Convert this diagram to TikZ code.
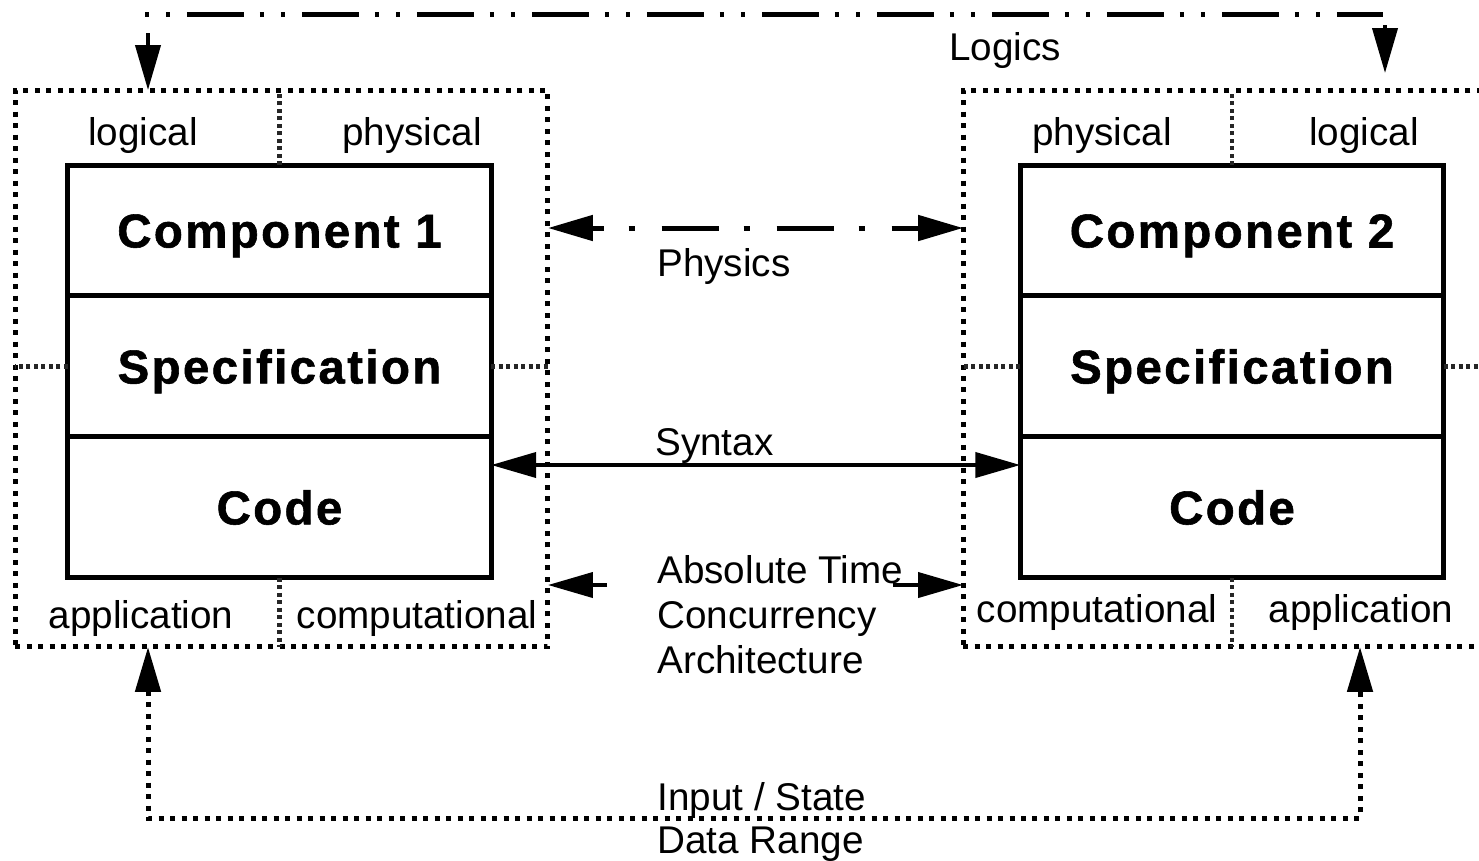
\documentclass[tikz,border=0pt]{standalone}
\usepackage{fontspec}
\setmainfont{Liberation Sans}
\usetikzlibrary{arrows.meta,positioning}

\begin{document}
\begin{tikzpicture}[
    x=0.02cm, y=-0.02cm,
    >={Triangle[length=9mm,width=5mm]},
    % component layers and their dotted frames
    layer/.style={rectangle, draw, line width=1mm, minimum width=8.47cm, minimum height=2.82cm, inner sep=0pt, outer sep=0pt, text height=19.3pt, text depth=0pt, font=\fontsize{27}{30}\selectfont\bfseries\addfontfeatures{LetterSpace=5,FakeBold=1.2}},
    frame/.style={rectangle, draw, line width=1mm, dash pattern=on 1mm off 1.3mm, minimum width=10.66cm, minimum height=11.14cm, inner sep=0pt, outer sep=0pt},
    split/.style={line width=0.9mm, dash pattern=on 0.8mm off 0.7mm, black!85},
    tag/.style={font=\fontsize{22}{25.6}\selectfont, inner sep=0pt},
    % connector styles
    dots/.style={line width=1mm, dash pattern=on 1mm off 1.3mm},
    logics/.style={line width=1mm, dash pattern=on 11.4mm off 3.2mm on 0.8mm off 3.4mm on 0.8mm off 3.4mm, dash phase=14.6mm},
    physics/.style={line width=1mm, dash pattern=on 11.4mm off 5mm on 1.2mm off 5.4mm, dash phase=9mm},
    link/.style={line width=0.8mm}
]

\fill[white] (0,0) rectangle (1479,860);
\useasboundingbox (0,0) rectangle (1479,860);

% Component 1 (left)
\node[frame] (outer1) at (281.5,368.5) {};
\node[layer, minimum height=2.62cm] (comp1) at (279.5,230.5) {Component 1};
\node[layer, below=0pt of comp1] (spec1) {Specification};
\node[layer, below=0pt of spec1] (code1) {Code};

\draw[split] (comp1.north) -- (comp1.north |- outer1.north);
\draw[split] (code1.south) -- (code1.south |- outer1.south);
\draw[split] (spec1.west) -- (spec1.west -| outer1.west);
\draw[split] (spec1.east) -- (spec1.east -| outer1.east);

\node[tag, anchor=base] (lg1) at (143,145) {logical};
\node[tag, anchor=base] (ph1) at (412,145) {physical};
\node[tag, anchor=base] (ap1) at (141,628) {application};
\node[tag, anchor=base] (cp1) at (417,628) {computational};

% Component 2 (right)
\node[frame] (outer2) at (1229.5,368.5) {};
\node[layer, minimum height=2.62cm] (comp2) at (1232,230.5) {Component 2};
\node[layer, below=0pt of comp2] (spec2) {Specification};
\node[layer, below=0pt of spec2] (code2) {Code};

\draw[split] (comp2.north) -- (comp2.north |- outer2.north);
\draw[split] (code2.south) -- (code2.south |- outer2.south);
\draw[split] (spec2.west) -- (spec2.west -| outer2.west);
\draw[split] (spec2.east) -- (spec2.east -| outer2.east);

\node[tag, anchor=base] (ph2) at (1102,145) {physical};
\node[tag, anchor=base] (lg2) at (1364,145) {logical};
\node[tag, anchor=base] (cp2) at (1097,622) {computational};
\node[tag, anchor=base] (ap2) at (1361,622) {application};

% Logics
\coordinate (lgA) at (145,14);
\coordinate (lgB) at (1383,14);
\coordinate (lgL) at (148,33);
\coordinate (lgR) at (1385,25);
\draw[logics] (lgA) -- (lgB);
\draw[link, ->] (lgL) -- (lgL |- outer1.north);
\draw[link, ->] (lgR) -- ++(0,48);
\node[tag, anchor=base] (logics) at (1005,60) {Logics};

% Physics
\coordinate (phy) at (0,228);
\draw[physics, <->] (outer1.east |- phy) -- (outer2.west |- phy);
\node[tag, anchor=base west] (physics) at (657,276) {Physics};

% Syntax
\coordinate (syn) at (0,465);
\draw[link, <->] (code1.east |- syn) -- (code2.west |- syn);
\node[tag, anchor=base west] (syntax) at (655,455) {Syntax};

% Absolute Time / Concurrency / Architecture
\coordinate (tmL) at (607,585);
\coordinate (tmR) at (893,585);
\draw[link, ->] (tmL) -- (outer1.east |- tmL);
\draw[link, ->] (tmR) -- (outer2.west |- tmR);
\node[tag, anchor=north west, align=left] (timing) at (657,555) {Absolute Time\\Concurrency\\Architecture};

% Input / State
\coordinate (inL) at (148,818);
\coordinate (inR) at (1360,818);
\draw[dots, <->] (outer1.south -| inL) -- (inL) -- (inR) -- (outer2.south -| inR);
\node[tag, anchor=base west] (input) at (657,810) {Input / State};
\node[tag, anchor=base west] (range) at (657,853) {Data Range};

\end{tikzpicture}
\end{document}
